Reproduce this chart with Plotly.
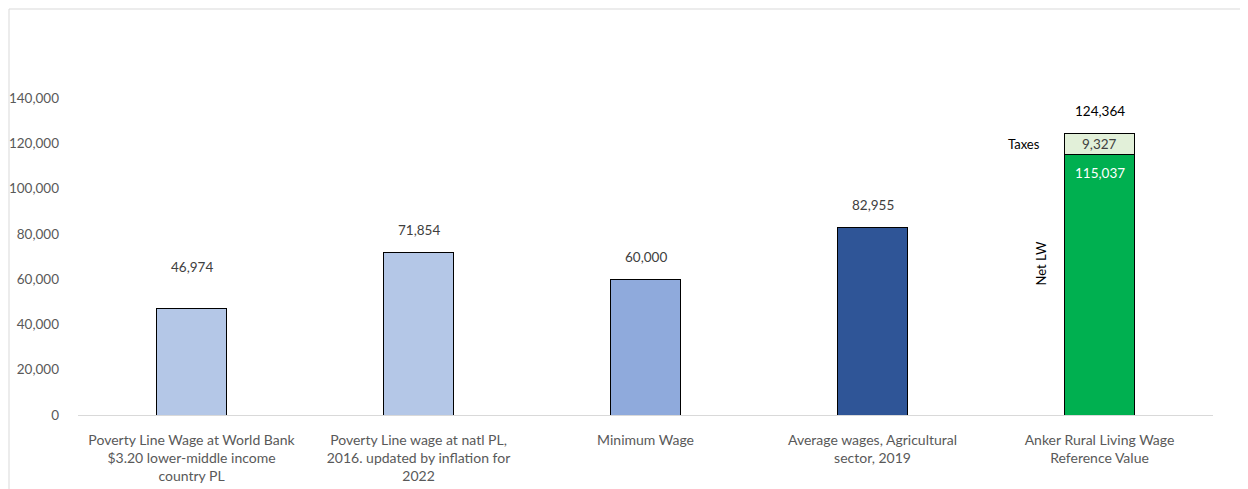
import plotly.graph_objects as go

categories = [
    "Poverty Line Wage at World Bank<br>$3.20 lower-middle income<br>country PL",
    "Poverty Line wage at natl PL,<br>2016. updated by inflation for<br>2022",
    "Minimum Wage",
    "Average wages, Agricultural<br>sector, 2019",
    "Anker Rural Living Wage<br>Reference Value",
]
main_values = [46974, 71854, 60000, 82955, 115037]
tax_values = [0, 0, 0, 0, 9327]
bar_colors = ["#B4C7E7", "#B4C7E7", "#8FAADC", "#2F5597", "#00B050"]
tax_color = "#E2F0D9"
tick_vals = [0, 20000, 40000, 60000, 80000, 100000, 120000, 140000]

FONT = "Lato"
totals = [m + t for m, t in zip(main_values, tax_values)]

fig = go.Figure()
fig.add_trace(go.Bar(
    x=categories, y=main_values,
    marker=dict(color=bar_colors, line=dict(color="#000000", width=1)),
    width=0.31, hoverinfo="skip", showlegend=False,
))
fig.add_trace(go.Bar(
    x=categories, y=tax_values,
    marker=dict(color=tax_color, line=dict(color="#000000", width=1)),
    width=0.31, hoverinfo="skip", showlegend=False,
))

annotations = []
for i, (c, v, t) in enumerate(zip(categories, main_values, tax_values)):
    if t == 0:
        shift = 42 if i == 0 else 22
        annotations.append(dict(x=c, y=v, text=f"{v:,}", showarrow=False,
                                yshift=shift, font=dict(family=FONT, size=13.5, color="#404040")))
c = categories[4]
annotations.append(dict(x=c, y=totals[4], text=f"{totals[4]:,}", showarrow=False,
                        yshift=22, font=dict(family=FONT, size=13.5, color="#000000")))
annotations.append(dict(x=c, y=main_values[4] + tax_values[4] / 2, text=f"{tax_values[4]:,}",
                        showarrow=False, font=dict(family=FONT, size=13.5, color="#404040")))
annotations.append(dict(x=c, y=main_values[4], text=f"{main_values[4]:,}", showarrow=False,
                        yshift=-18, font=dict(family=FONT, size=13.5, color="#FFFFFF")))
annotations.append(dict(x=c, y=main_values[4] + tax_values[4] / 2, text="Taxes", showarrow=False,
                        xshift=-76, font=dict(family=FONT, size=13, color="#000000")))
annotations.append(dict(x=c, y=main_values[4] * 0.58, text="Net LW", showarrow=False,
                        textangle=-90, xshift=-59, font=dict(family=FONT, size=13, color="#000000")))

W, H = 1240, 481
L, R, T, B = 70, 35, 90, 74
PW, PH = W - L - R, H - T - B

fig.update_layout(
    barmode="stack",
    width=W, height=H,
    margin=dict(l=L, r=R, t=T, b=B),
    paper_bgcolor="#FFFFFF", plot_bgcolor="#FFFFFF",
    annotations=annotations,
    xaxis=dict(showline=True, linecolor="#D9D9D9", linewidth=1, ticks="",
               ticklabelstandoff=12, automargin=False,
               tickfont=dict(family=FONT, size=14, color="#595959"), showgrid=False),
    yaxis=dict(range=[0, 140000], tickvals=tick_vals, tickformat=",", showgrid=False,
               zeroline=False, showline=False, ticks="", ticklabelstandoff=18, automargin=False,
               tickfont=dict(family=FONT, size=13.5, color="#595959")),
    shapes=[dict(type="rect", xref="paper", yref="paper",
                 x0=(-L + 1) / PW, x1=(W + 20 - L) / PW,
                 y0=-(B + 20) / PH, y1=(PH + T - 1) / PH,
                 line=dict(color="#D9D9D9", width=1), fillcolor="rgba(0,0,0,0)", layer="below")],
)
fig.write_html("out.html")
